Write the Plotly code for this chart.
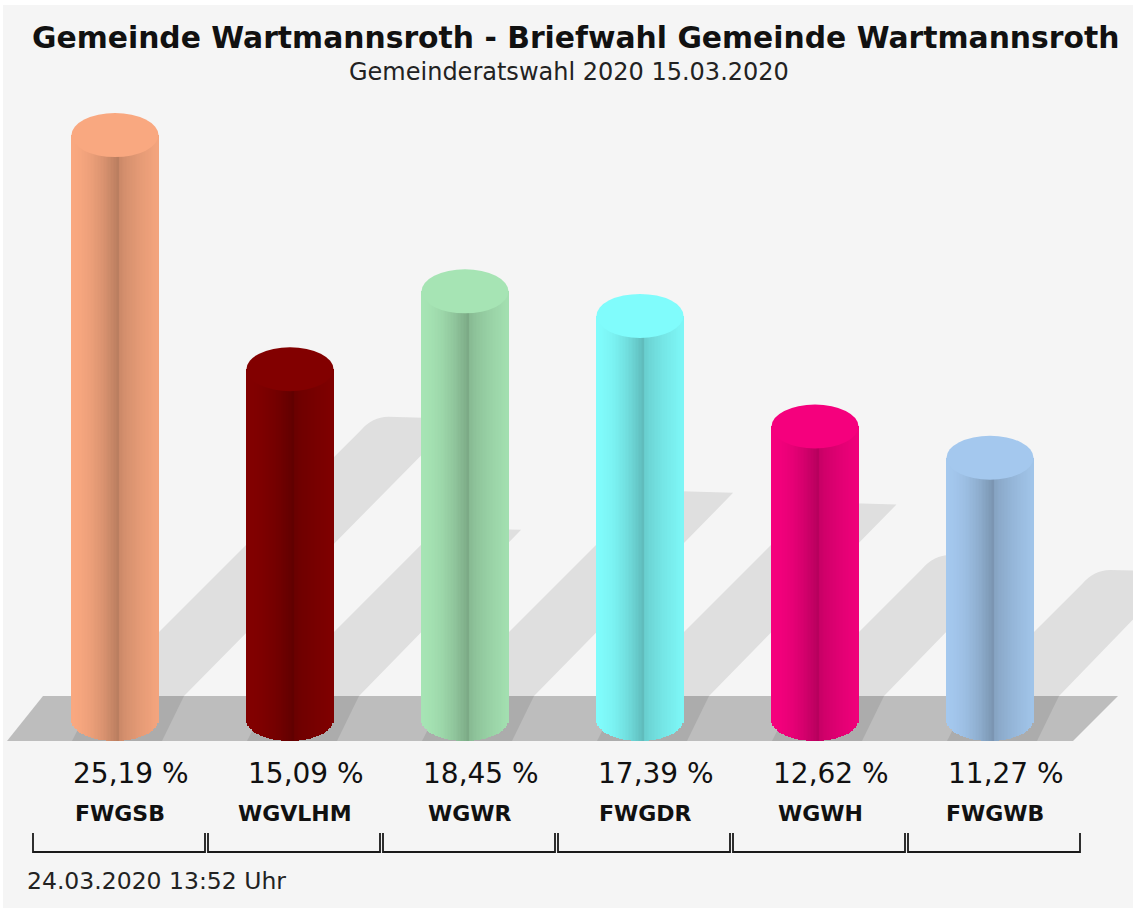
import numpy as np
import plotly.graph_objects as go

# ---------------- data ----------------
categories = ["FWGSB", "WGVLHM", "WGWR", "FWGDR", "WGWH", "FWGWB"]
values = [25.19, 15.09, 18.45, 17.39, 12.62, 11.27]
colors = ["#f9a880", "#820000", "#a6e4b4", "#80fcfc", "#f5007d", "#a4c8ee"]
title_text = "Gemeinde Wartmannsroth - Briefwahl Gemeinde Wartmannsroth"
subtitle_text = "Gemeinderatswahl 2020 15.03.2020"
timestamp_text = "24.03.2020 13:52 Uhr"

# ---------------- geometry helpers (pixel <-> axis units) ----------------
W, H = 1133, 908
XPX, X0 = 175.0, 115.0      # px per category step, px of first category
YPX, Y0 = 23.18, 719.0      # px per percent, px of value 0
FONT = "DejaVu Sans"


def dxu(px):
    return px / XPX


def dyu(px):
    return px / YPX


def X(px):
    return (px - X0) / XPX


def Y(py):
    return (Y0 - py) / YPX


RX = dxu(43.5)
RY = dyu(22)


def hex2rgb(h):
    h = h.lstrip("#")
    return tuple(int(h[i:i + 2], 16) for i in (0, 2, 4))


def shade(rgb, t):
    if t < 0.55:
        f = 1.0 - 0.26 * (t / 0.55) ** 1.8
    else:
        f = 0.80 + 0.18 * ((t - 0.55) / 0.45) ** 0.7
    r, g, b = (max(0, min(255, int(round(c * f)))) for c in rgb)
    return f"rgb({r},{g},{b})"


# ---------------- cylinder bodies as shaded strips ----------------
N = 60
bx, by, bbase, bw, bc = [], [], [], [], []
for i, (v, col) in enumerate(zip(values, colors)):
    rgb = hex2rgb(col)
    for k in range(N):
        t = (k + 0.5) / N
        off = -RX + 2 * RX * t
        base = -RY * np.sqrt(max(0.0, 1 - (off / RX) ** 2))
        bx.append(i + off)
        by.append(v - base)
        bbase.append(base)
        bw.append(2 * RX / N * 1.3)
        bc.append(shade(rgb, t))

fig = go.Figure()
fig.add_trace(go.Bar(x=bx, y=by, base=bbase, width=bw,
                     marker=dict(color=bc, line=dict(width=0)),
                     hoverinfo="skip", showlegend=False))

# ---------------- category brackets ----------------
lx, ly = [], []
for i in range(len(categories)):
    c = X0 + XPX * i
    Lb, Rb = c - 82, c + 90
    for px, py in [(Lb, 833), (Lb, 852), (Rb, 852), (Rb, 833)]:
        lx.append(X(px))
        ly.append(Y(py))
    lx.append(None)
    ly.append(None)
fig.add_trace(go.Scatter(x=lx, y=ly, mode="lines",
                         line=dict(color="#1a1a1a", width=1.8),
                         hoverinfo="skip", showlegend=False))

# ---------------- shapes ----------------
shapes = []
# background
shapes.append(dict(type="rect", xref="paper", yref="paper", x0=3 / W, x1=1, y0=0, y1=1 - 5 / H,
                   fillcolor="#f5f5f5", line=dict(width=0), layer="below"))


def P(px, py):
    return f"{X(px):.5f},{Y(py):.5f}"


# wall shadows
for i, v in enumerate(values):
    c = X0 + XPX * i
    L, R = c - 43, c + 43
    d = 0.475 * v * YPX
    Lw, Rw = L + 23, R + 26
    tx, ty = Lw + d, 696 - d
    path = (f"M{P(Lw, 696)} L{P(tx - 12, ty + 12)} Q{P(tx, ty - 2)} {P(tx + 16, ty - 2)} "
            f"L{P(Rw + d - 4, ty)} L{P(Rw, 696)} Z")
    shapes.append(dict(type="path", xref="x", yref="y", path=path,
                       fillcolor="#dfdfdf", line=dict(width=0), layer="below"))

# floor
shapes.append(dict(type="path", xref="x", yref="y",
                   path=f"M{P(7, 741)} L{P(43, 696)} L{P(1118, 696)} L{P(1073, 741)} Z",
                   fillcolor="#bdbdbd", line=dict(width=0), layer="below"))
# floor shadows
for i, v in enumerate(values):
    c = X0 + XPX * i
    L, R = c - 43, c + 43
    path = f"M{P(L, 741)} L{P(R + 4, 741)} L{P(R + 26, 696)} L{P(L + 23, 696)} Z"
    shapes.append(dict(type="path", xref="x", yref="y", path=path,
                       fillcolor="#acacac", line=dict(width=0), layer="below"))

# cylinder tops
for i, (v, col) in enumerate(zip(values, colors)):
    shapes.append(dict(type="circle", xref="x", yref="y",
                       x0=i - RX, x1=i + RX, y0=v - RY, y1=v + RY,
                       fillcolor=col, line=dict(width=0), layer="above"))

# ---------------- annotations ----------------
annotations = []
for i, (cat, v) in enumerate(zip(categories, values)):
    lab = f"{v:.2f}".replace(".", ",") + " %"
    annotations.append(dict(x=i + dxu(16), y=Y(773), xref="x", yref="y", text=lab,
                            showarrow=False, xanchor="center", yanchor="middle",
                            font=dict(family=FONT, size=28, color="#111111")))
    annotations.append(dict(x=i + dxu(5), y=Y(813), xref="x", yref="y", text=cat,
                            showarrow=False, xanchor="center", yanchor="middle",
                            font=dict(family=FONT, size=22, color="#111111", weight="bold")))

annotations.append(dict(x=575 / W, y=1 - 37 / H, xref="paper", yref="paper", text=title_text,
                        showarrow=False, xanchor="center", yanchor="middle",
                        font=dict(family=FONT, size=29.8, color="#111111", weight="bold")))
annotations.append(dict(x=569 / W, y=1 - 72 / H, xref="paper", yref="paper", text=subtitle_text,
                        showarrow=False, xanchor="center", yanchor="middle",
                        font=dict(family=FONT, size=24, color="#222222")))
annotations.append(dict(x=25 / W, y=1 - 881 / H, xref="paper", yref="paper", text=timestamp_text,
                        showarrow=False, xanchor="left", yanchor="middle",
                        font=dict(family=FONT, size=23.5, color="#222222")))

fig.update_layout(
    width=W, height=H,
    margin=dict(l=0, r=0, t=0, b=0),
    paper_bgcolor="#ffffff", plot_bgcolor="rgba(0,0,0,0)",
    barmode="overlay", bargap=0,
    shapes=shapes, annotations=annotations,
    showlegend=False,
    xaxis=dict(range=[X(0), X(W)], visible=False, fixedrange=True),
    yaxis=dict(range=[Y(H), Y(0)], visible=False, fixedrange=True),
)

fig.write_html("out.html", config={"displayModeBar": False})

# remove the browser's default page margin so the figure sits at (0, 0)
with open("out.html", "r", encoding="utf-8") as fh:
    html = fh.read()
html = html.replace("<head>", "<head><style>html,body{margin:0;padding:0;overflow:hidden;}</style>", 1)
with open("out.html", "w", encoding="utf-8") as fh:
    fh.write(html)
